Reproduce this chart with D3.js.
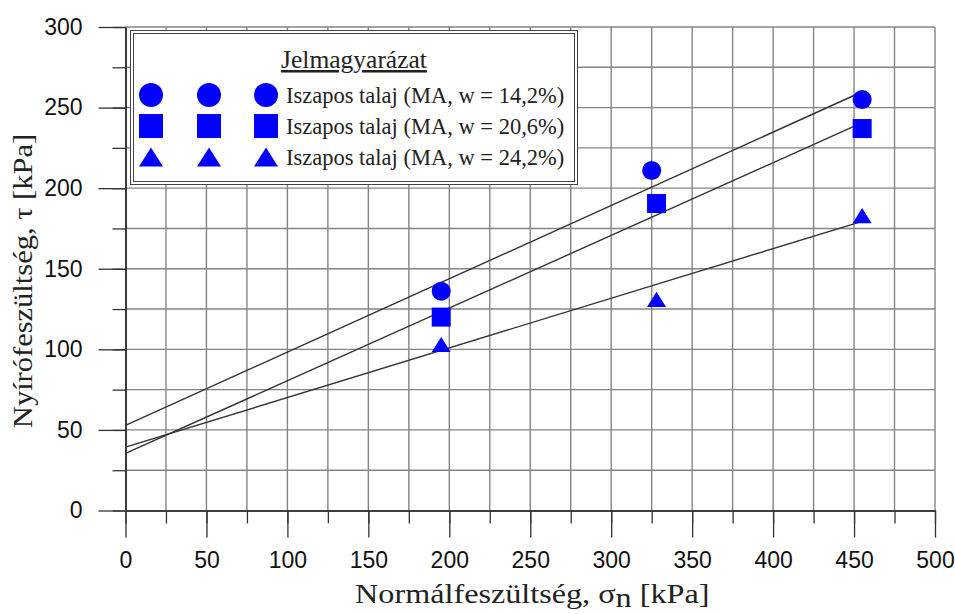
<!DOCTYPE html>
<html>
<head>
<meta charset="utf-8">
<script src="https://cdn.jsdelivr.net/npm/d3@7"></script>
<style>
  html, body { margin: 0; padding: 0; background: #fff; }
  svg { display: block; }
</style>
</head>
<body>
<svg id="chart" width="955" height="614"></svg>
<script>
// Direct shear test results – silty soil at three water contents
const seriesNames = [
  "Iszapos talaj (MA, w = 14,2%)",
  "Iszapos talaj (MA, w = 20,6%)",
  "Iszapos talaj (MA, w = 24,2%)"
];
const seriesShapes = ["circle", "square", "triangle"];

// normal stress σn [kPa]
const sigmaW142 = [195, 325, 455];
const sigmaW206 = [195, 328, 455];
const sigmaW242 = [195, 328, 455];

// shear stress τ [kPa]
const tauW142 = [136, 211, 255];
const tauW206 = [120, 190.5, 237];
const tauW242 = [103, 131, 183];

// fitted failure envelopes τ = c + σn·tanφ
const cohesion = [52.8, 35.4, 39.3];
const tanPhi = [0.455, 0.451, 0.308];
const envelopeEnd = 455;

const xTicks = [0, 50, 100, 150, 200, 250, 300, 350, 400, 450, 500];
const yTicks = [0, 50, 100, 150, 200, 250, 300];

const series = [
  { sigma: sigmaW142, tau: tauW142 },
  { sigma: sigmaW206, tau: tauW206 },
  { sigma: sigmaW242, tau: tauW242 }
];

const svg = d3.select("#chart");
const x = d3.scaleLinear().domain([0, 500]).range([125.5, 935]);
const y = d3.scaleLinear().domain([0, 300]).range([510.5, 27]);

const minor = d3.range(0, 501, 25);
const minorY = d3.range(0, 301, 25);

// grid
const grid = svg.append("g").attr("stroke", "#858585").attr("stroke-width", 1.4);
grid.selectAll("line.v").data(minor.slice(1)).join("line")
  .attr("x1", d => x(d)).attr("x2", d => x(d))
  .attr("y1", y(0)).attr("y2", y(300));
grid.selectAll("line.h").data(minorY.slice(1)).join("line")
  .attr("x1", x(0)).attr("x2", x(500))
  .attr("y1", d => y(d)).attr("y2", d => y(d));

const labelFont = "'Liberation Sans', Arial, sans-serif";
const serifFont = "'Liberation Serif', 'Times New Roman', serif";

// axes: major ticks with labels, minor ticks without
function styleAxis(g) {
  g.selectAll("path.domain").attr("stroke", "#333").attr("stroke-width", 1.6);
  g.selectAll(".tick line").attr("stroke", "#333").attr("stroke-width", 1.3);
  g.selectAll(".tick text").attr("fill", "#111").style("font-family", labelFont).style("font-size", "23px");
}

svg.append("g").attr("transform", `translate(0,${y(0)})`)
  .call(d3.axisBottom(x).tickValues(minor).tickSize(13).tickSizeOuter(0).tickFormat(""))
  .call(styleAxis);
svg.append("g").attr("transform", `translate(0,${y(0)})`)
  .call(d3.axisBottom(x).tickValues(xTicks).tickSize(27).tickSizeOuter(0).tickPadding(14).tickFormat(d3.format("d")))
  .call(styleAxis);

svg.append("g").attr("transform", `translate(${x(0)},0)`)
  .call(d3.axisLeft(y).tickValues(minorY).tickSize(13).tickSizeOuter(0).tickFormat(""))
  .call(styleAxis);
svg.append("g").attr("transform", `translate(${x(0)},0)`)
  .call(d3.axisLeft(y).tickValues(yTicks).tickSize(27).tickSizeOuter(0).tickPadding(16).tickFormat(d3.format("d")))
  .call(styleAxis);

// axis titles
svg.append("text")
  .attr("transform", `translate(${(x(0) + x(500)) / 2 + 2},603) scale(1.15,1)`)
  .attr("text-anchor", "middle")
  .style("font-family", serifFont).style("font-size", "28px").attr("fill", "#222")
  .call(t => {
    t.append("tspan").text("Normálfeszültség, σ");
    t.append("tspan").attr("dy", 4).text("n");
    t.append("tspan").attr("dy", -4).text(" [kPa]");
  });

svg.append("text")
  .attr("transform", `translate(32,281) rotate(-90) scale(1.09,1)`)
  .attr("text-anchor", "middle")
  .style("font-family", serifFont).style("font-size", "28px").attr("fill", "#222")
  .text("Nyírófeszültség, τ [kPa]");

// fitted envelopes
const line = d3.line().x(d => x(d[0])).y(d => y(d[1]));
svg.append("g").selectAll("path").data(cohesion).join("path")
  .attr("d", (c, i) => line([[0, c], [envelopeEnd, c + tanPhi[i] * envelopeEnd]]))
  .attr("fill", "none").attr("stroke", "#333").attr("stroke-width", 1.4);

// marker shapes
function markerPath(shape, s) {
  const h = s / 2;
  if (shape === "circle") return `M${h},0A${h},${h} 0 1,1 ${-h},0A${h},${h} 0 1,1 ${h},0Z`;
  if (shape === "square") return `M${-h},${-h}H${h}V${h}H${-h}Z`;
  const th = s * 0.8;
  return `M0,${-th / 2}L${h},${th / 2}L${-h},${th / 2}Z`;
}

const blue = "#0000ff";
series.forEach((s, i) => {
  svg.append("g").selectAll("path").data(s.sigma).join("path")
    .attr("transform", (d, j) => `translate(${x(d)},${y(s.tau[j])})`)
    .attr("d", markerPath(seriesShapes[i], 19))
    .attr("fill", blue);
});

// legend
const lg = svg.append("g");
lg.append("rect").attr("x", 130.5).attr("y", 30.5).attr("width", 447).attr("height", 154)
  .attr("fill", "#fff").attr("stroke", "#444").attr("stroke-width", 1);
lg.append("rect").attr("x", 133.5).attr("y", 33.5).attr("width", 441).attr("height", 148)
  .attr("fill", "none").attr("stroke", "#444").attr("stroke-width", 1);
lg.append("text").attr("x", 354).attr("y", 68).attr("text-anchor", "middle")
  .style("font-family", serifFont).style("font-size", "25.5px").attr("fill", "#222")
  .style("text-decoration", "underline")
  .text("Jelmagyarázat");

const rowY = [95, 126, 157];
const markerX = [151, 209, 266];
seriesNames.forEach((name, i) => {
  markerX.forEach(mx => {
    lg.append("path")
      .attr("transform", `translate(${mx},${rowY[i]})`)
      .attr("d", markerPath(seriesShapes[i], 24))
      .attr("fill", blue);
  });
  lg.append("text").attr("x", 286).attr("y", rowY[i] + 7.5)
    .style("font-family", serifFont).style("font-size", "22.5px").attr("fill", "#222")
    .text(name);
});
</script>
</body>
</html>
